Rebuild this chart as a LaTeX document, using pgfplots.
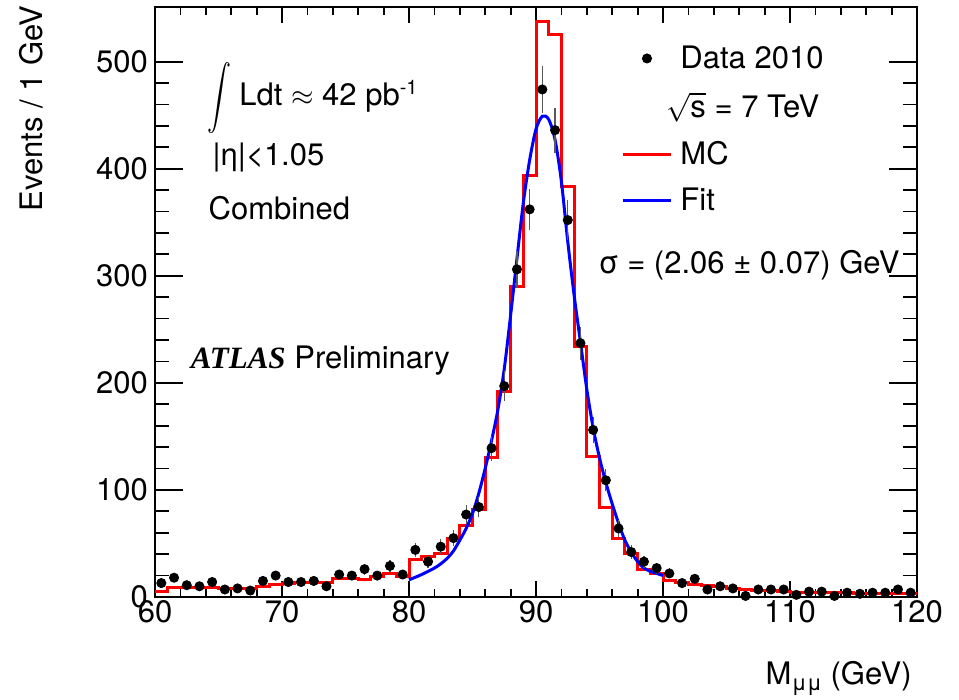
\documentclass[border=0pt]{standalone}
\usepackage{pgfplots}
\pgfplotsset{compat=1.18}
\usepackage{pgfplotstable}
\usepackage{fontspec}
\setmainfont{TeX Gyre Heros}
\newfontfamily\atlasfont{Liberation Serif}
\newcommand\f{\fontsize{15.5}{18.6}\selectfont}

\pgfplotstableread{
x y e
60.5 13 3.6
61.5 18 4.2
62.5 11 3.3
63.5 10 3.2
64.5 14 3.7
65.5 7 2.6
66.5 8 2.8
67.5 6 2.4
68.5 15 3.9
69.5 20 4.5
70.5 14 3.7
71.5 14 3.7
72.5 15 3.9
73.5 10 3.2
74.5 21 4.6
75.5 20 4.5
76.5 26 5.1
77.5 20 4.5
78.5 29 5.4
79.5 21 4.6
80.5 44 6.6
81.5 33 5.7
82.5 47 6.9
83.5 55 7.4
84.5 77 8.8
85.5 84 9.2
86.5 139 11.8
87.5 197 14.0
88.5 306 17.5
89.5 362 19.0
90.5 474 21.8
91.5 436 20.9
92.5 352 18.8
93.5 237 15.4
94.5 156 12.5
95.5 109 10.4
96.5 64 8.0
97.5 42 6.5
98.5 33 5.7
99.5 27 5.2
100.5 22 4.7
101.5 13 3.6
102.5 17 4.1
103.5 7 2.6
104.5 10 3.2
105.5 8 2.8
106.5 1 1.0
107.5 7 2.6
108.5 7 2.6
109.5 7 2.6
110.5 2 1.4
111.5 5 2.2
112.5 5 2.2
113.5 1 1.0
114.5 4 2.0
115.5 3 1.7
116.5 4 2.0
117.5 4 2.0
118.5 7 2.6
119.5 4 2.0
}\datatable

\pgfplotstableread{
x y
60 5
61 9
62 9
63 9
64 9
65 8
66 8
67 8
68 10
69 12
70 13
71 14
72 14
73 14
74 17
75 17
76 16
77 19
78 22
79 19
80 35
81 38
82 41
83 55
84 67
85 82
86 130
87 192
88 290
89 394
90 537
91 525
92 383
93 234
94 131
95 84
96 55
97 41
98 26
99 22
100 15
101 14
102 12
103 11
104 10
105 8
106 7
107 6
108 6
109 5
110 4
111 4
112 4
113 4
114 4
115 3
116 3
117 3
118 3
119 3
120 3
}\mctable

\pgfplotstableread{
x y
80.0 16
81.0 21
82.0 27
82.5 31
83.0 36
83.5 43
84.0 53
84.5 64
85.0 78
85.5 97
86.0 120
86.5 146
87.0 175
87.5 213
88.0 263
88.5 316
89.0 368
89.5 408
90.0 437
90.5 449
91.0 446
91.5 427
92.0 388
92.5 332
93.0 282
93.5 238
94.0 194
94.5 158
95.0 130
95.5 107
96.0 87
96.5 69
97.0 53
97.5 42
98.0 33
98.5 27
99.0 24
99.5 22
100.0 20
}\fittable

\begin{document}
\begin{tikzpicture}
% y-axis ticks (longer) in an overlaid axis
\begin{axis}[scale only axis, width=381pt, height=295pt,
  xmin=60, xmax=120, ymin=0, ymax=551,
  xtick=\empty, ytick={0,100,...,500},
  minor y tick num=4,
  tick align=inside,
  major tick length=14pt, minor tick length=7pt,
  axis line style={line width=1.2pt},
  every tick/.style={black, line width=0.9pt},
  /pgf/number format/assume math mode=true,
  ticklabel style={font=\f},
]
\addplot[draw=none, forget plot] coordinates {(60,0)};
\end{axis}
\begin{axis}[name=ax, scale only axis, width=381pt, height=295pt,
  xmin=60, xmax=120, ymin=0, ymax=551,
  xtick={60,70,...,120}, ytick=\empty,
  minor x tick num=4,
  tick align=inside,
  major tick length=8pt, minor tick length=4pt,
  axis line style={line width=1.2pt},
  every tick/.style={black, line width=0.9pt},
  /pgf/number format/assume math mode=true,
  ticklabel style={font=\f},
  xticklabel style={yshift=2pt},
  legend style={draw=none, fill=none, font=\f, at={(axis cs:96.7,519)}, anchor=north west,
    inner sep=0pt, row sep=6.5pt, cells={anchor=west}},
  legend image code/.code={\draw[mark repeat=2,mark phase=2,#1] plot coordinates {(0pt,0pt) (12pt,0pt) (24pt,0pt)};},
]
\addlegendimage{only marks, mark=*, mark size=2.3pt, black}
\addlegendentry{\hspace*{2pt}Data 2010}
\addlegendimage{empty legend}
\addlegendentry{\hspace*{-5pt}$\sqrt{\mbox{s}}$ = 7 TeV}
\addlegendimage{red, line width=1.5pt}
\addlegendentry{\hspace*{2pt}MC}
\addlegendimage{blue, line width=1.5pt}
\addlegendentry{\hspace*{2pt}Fit}

\addplot[red, line width=1.5pt, const plot mark left, forget plot] table[x=x,y=y] {\mctable};
\addplot[blue, line width=1.5pt, smooth, forget plot] table[x=x,y=y] {\fittable};
\addplot[only marks, mark=*, mark size=2.3pt, black, forget plot,
  error bars/.cd, y dir=both, y explicit, error bar style={black!65, line width=0.6pt},
  error mark=none] table[x=x, y=y, y error=e] {\datatable};

\node[anchor=west, font=\f, inner sep=0pt] at (axis cs:64.1,466) {$\vcenter{\hbox{\scalebox{1.2}[1.6]{$\displaystyle\int$}}}$\hspace{4pt}Ldt $\approx$ 42 pb$^{\mbox{\fontsize{10}{12}\selectfont -1}}$};
\node[anchor=west, font=\f, inner sep=0pt] at (axis cs:64.5,410) {|η|<1.05};
\node[anchor=west, font=\f, inner sep=0pt] at (axis cs:64.2,363) {Combined};
\node[anchor=west, font=\f, inner sep=0pt] at (axis cs:62.8,221) {{\atlasfont\bfseries\itshape ATLAS} Preliminary};
\node[anchor=west, font=\f, inner sep=0pt] at (axis cs:94.9,310) {σ = (2.06 ± 0.07) GeV};
\end{axis}
\node[rotate=90, anchor=east, font=\f, inner sep=0pt] at ([xshift=-62pt, yshift=1pt]ax.north west) {Events / 1 GeV};
\node[anchor=east, font=\f, inner sep=0pt] at ([xshift=-2.5pt, yshift=-40.5pt]ax.south east) {M\raisebox{-3pt}{\fontsize{11}{12}\selectfont μμ} (GeV)};
\pgfresetboundingbox
\path[use as bounding box] ([xshift=-77.5pt,yshift=-51.5pt]ax.south west) rectangle ([xshift=21pt,yshift=3.5pt]ax.north east);
\end{tikzpicture}
\end{document}
